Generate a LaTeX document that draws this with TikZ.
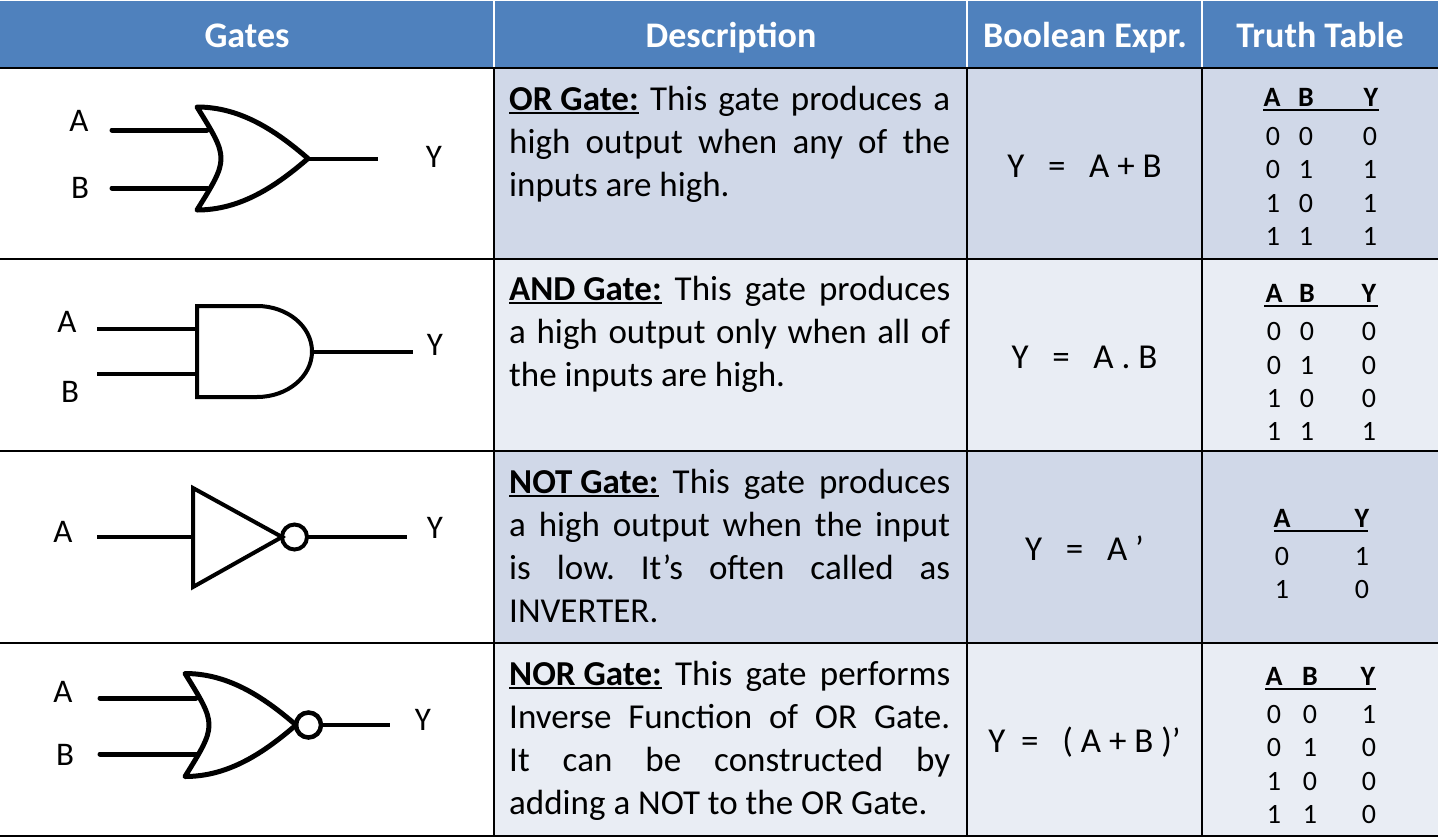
\documentclass[tikz,border=0pt]{standalone}
\usepackage{fontspec}
\setmainfont{Carlito}
\definecolor{hdrblue}{RGB}{79,129,189}
\definecolor{rowdark}{RGB}{208,216,232}
\definecolor{rowlight}{RGB}{233,237,244}
\newsavebox\gulbox
\newcommand{\gateul}[1]{\sbox\gulbox{\bfseries #1}\rlap{\rule[-3.5pt]{\wd\gulbox}{2pt}}\usebox\gulbox}
\hbadness=10000
\hyphenpenalty=10000
\exhyphenpenalty=10000
\tolerance=10000
\frenchspacing
\tikzset{
  hdr/.style={font=\fontsize{36}{42}\selectfont\bfseries, text=white, anchor=base, inner sep=0pt},
  desc/.style={font=\fontsize{35}{43}\selectfont, text width=441pt, align=justify, anchor=base west, inner sep=0pt},
  expr/.style={font=\fontsize{35}{43}\selectfont, anchor=base, inner sep=0pt},
  lbl/.style={font=\fontsize{33}{39}\selectfont, inner sep=0pt},
  tth/.style={font=\fontsize{28}{33}\selectfont\bfseries, anchor=base, inner sep=0pt},
  ttv/.style={font=\fontsize{28}{33}\selectfont, anchor=base, inner sep=0pt},
  gridline/.style={line width=2.5pt, black},
  hsep/.style={line width=2pt, white},
  thick wire/.style={line width=5pt, line cap=round},
  thin wire/.style={line width=4pt},
  orbody/.style={line width=5pt, line join=round},
  andbody/.style={line width=4pt, line join=miter},
  ttrule/.style={line width=2pt},
}
\begin{document}
\begin{tikzpicture}[x=1pt,y=-1pt]
\useasboundingbox (0,0) rectangle (1438,839);
% backgrounds
\fill[white] (0,0) rectangle (1438,839);
\fill[hdrblue] (0,1) rectangle (1438,68);
\fill[rowdark] (494,68) rectangle (1438,259);
\fill[rowlight] (494,259) rectangle (1438,451);
\fill[rowdark] (494,451) rectangle (1438,643);
\fill[rowlight] (494,643) rectangle (1438,836);
% header separators
\draw[hsep] (494,1) -- (494,68);
\draw[hsep] (967,1) -- (967,68);
\draw[hsep] (1202,1) -- (1202,68);
% grid
\foreach \yy in {68,259,451,643,836} \draw[gridline] (0,\yy) -- (1438,\yy);
\foreach \xx in {494,967,1202} \draw[gridline] (\xx,68) -- (\xx,836);
% header texts
\node[hdr] (hgates) at (247,47) {Gates};
\node[hdr] (hdesc) at (731,47) {Description};
\node[hdr] (hbool) at (1085,47) {Boolean Expr.};
\node[hdr] (htruth) at (1320,47) {Truth Table};

% ---------- Row 1: OR gate ----------
\node[lbl] (orA) at (79,121) {A};
\node[lbl] (orB) at (80,188) {B};
\node[lbl] (orY) at (434,157) {Y};
\coordinate (orAin) at (112,130);
\coordinate (orBin) at (112,188);
\coordinate (orApin) at (207,130);
\coordinate (orBpin) at (207,188);
\coordinate (ortip) at (308,158.5);
\coordinate (orout) at (378,158.5);
\draw[orbody] (197,107) .. controls (240,107) and (275,130) .. (ortip)
   .. controls (275,187) and (240,210) .. (197,210)
   .. controls (229,158.5) .. (197,107) -- cycle;
\draw[thick wire] (orAin) -- (orApin);
\draw[thick wire] (orBin) -- (orBpin);
\draw[thin wire] (ortip) -- (orout);

% ---------- Row 2: AND gate ----------
\node[lbl] (andA) at (67,322) {A};
\node[lbl] (andB) at (70,392) {B};
\node[lbl] (andY) at (435,345) {Y};
\coordinate (andAin) at (97,329);
\coordinate (andBin) at (97,374);
\coordinate (andApin) at (197,329);
\coordinate (andBpin) at (197,374);
\coordinate (andtip) at (312,351.5);
\coordinate (andout) at (413,351.5);
\draw[andbody] (257,306) -- (197,306) -- (197,397) -- (257,397)
   arc[start angle=90, end angle=-90, x radius=55, y radius=45.5] -- cycle;
\draw[thin wire] (andAin) -- (andApin);
\draw[thin wire] (andBin) -- (andBpin);
\draw[thin wire] (andtip) -- (andout);

% ---------- Row 3: NOT gate ----------
\node[lbl] (notA) at (63,532) {A};
\node[lbl] (notY) at (435,528) {Y};
\coordinate (notAin) at (97,537);
\coordinate (notApin) at (193,537);
\coordinate (nottip) at (282,537);
\coordinate (notbub) at (294.5,537);
\coordinate (notbubout) at (307,537);
\coordinate (notout) at (407,537);
\draw[andbody] (193,488) -- (nottip) -- (193,587) -- cycle;
\draw[line width=4pt] (notbub) circle[radius=12.5];
\draw[thin wire] (notAin) -- (notApin);
\draw[thin wire] (notbubout) -- (notout);

% ---------- Row 4: NOR gate ----------
\node[lbl] (norA) at (63,692) {A};
\node[lbl] (norB) at (65,755) {B};
\node[lbl] (norY) at (423,720) {Y};
\coordinate (norAin) at (100,698);
\coordinate (norBin) at (100,754);
\coordinate (norApin) at (196,698);
\coordinate (norBpin) at (196,754);
\coordinate (nortip) at (296,725);
\coordinate (norbub) at (308.5,725);
\coordinate (norbubout) at (321,725);
\coordinate (norout) at (390,725);
\draw[orbody] (185,673.5) .. controls (228,673.5) and (263,696.5) .. (nortip)
   .. controls (263,753.5) and (228,776.5) .. (185,776.5)
   .. controls (217,725) .. (185,673.5) -- cycle;
\draw[line width=4.5pt] (norbub) circle[radius=12.5];
\draw[thick wire] (norAin) -- (norApin);
\draw[thick wire] (norBin) -- (norBpin);
\draw[thin wire] (norbubout) -- (norout);

% ---------- Descriptions ----------
\node[desc] (d1) at (509,110) {\gateul{OR Gate:} This gate produces a\linebreak high output when any of the\linebreak inputs are high.};
\node[desc] (d2) at (509,300) {\gateul{AND Gate:} This gate produces\linebreak a high output only when all of\linebreak the inputs are high.};
\node[desc] (d3) at (509,493) {\gateul{NOT Gate:} This gate produces\linebreak a high output when the input\linebreak is low. It’s often called as\linebreak INVERTER.};
\node[desc] (d4) at (509,685) {\gateul{NOR Gate:} This gate performs\linebreak Inverse Function of OR Gate.\linebreak It can be constructed by\linebreak adding a NOT to the OR Gate.};

% ---------- Boolean expressions ----------
\node[expr] (e1) at (1084.5,177) {Y~~~=~~~A + B};
\node[expr] (e2) at (1084.5,368) {Y~~~=~~~A . B};
\node[expr] (e3) at (1084.5,560) {Y~~~=~~~A ’};
\node[expr] (e4) at (1084.5,752) {Y~~=~~~( A + B )’};

% ---------- Truth tables ----------
% OR
\node[tth] (t1hA) at (1272,106) {A};
\node[tth] (t1hB) at (1306,106) {B};
\node[tth] (t1hY) at (1371,106) {Y};
\draw[ttrule] (1263,110) -- (1379,110);
\foreach \yy/\a/\b/\c [count=\k] in {145/0/0/0,178/0/1/1,212/1/0/1,245/1/1/1} {
  \node[ttv] (t1a\k) at (1273,\yy) {\a};
  \node[ttv] (t1b\k) at (1306,\yy) {\b};
  \node[ttv] (t1y\k) at (1370,\yy) {\c};
}
% AND
\node[tth] (t2hA) at (1274,302) {A};
\node[tth] (t2hB) at (1307,302) {B};
\node[tth] (t2hY) at (1369,302) {Y};
\draw[ttrule] (1264,306) -- (1378,306);
\foreach \yy/\a/\b/\c [count=\k] in {340/0/0/0,374/0/1/0,407/1/0/0,440/1/1/1} {
  \node[ttv] (t2a\k) at (1274,\yy) {\a};
  \node[ttv] (t2b\k) at (1307,\yy) {\b};
  \node[ttv] (t2y\k) at (1369,\yy) {\c};
}
% NOT
\node[tth] (t3hA) at (1282,527) {A};
\node[tth] (t3hY) at (1362,527) {Y};
\draw[ttrule] (1274,531) -- (1368,531);
\foreach \yy/\a/\c [count=\k] in {565/0/1,598/1/0} {
  \node[ttv] (t3a\k) at (1282,\yy) {\a};
  \node[ttv] (t3y\k) at (1362,\yy) {\c};
}
% NOR
\node[tth] (t4hA) at (1274,685) {A};
\node[tth] (t4hB) at (1310,685) {B};
\node[tth] (t4hY) at (1368,685) {Y};
\draw[ttrule] (1265,689) -- (1376,689);
\foreach \yy/\a/\b/\c [count=\k] in {723/0/0/1,756/0/1/0,790/1/0/0,823/1/1/0} {
  \node[ttv] (t4a\k) at (1274,\yy) {\a};
  \node[ttv] (t4b\k) at (1310,\yy) {\b};
  \node[ttv] (t4y\k) at (1369,\yy) {\c};
}
\end{tikzpicture}
\end{document}
